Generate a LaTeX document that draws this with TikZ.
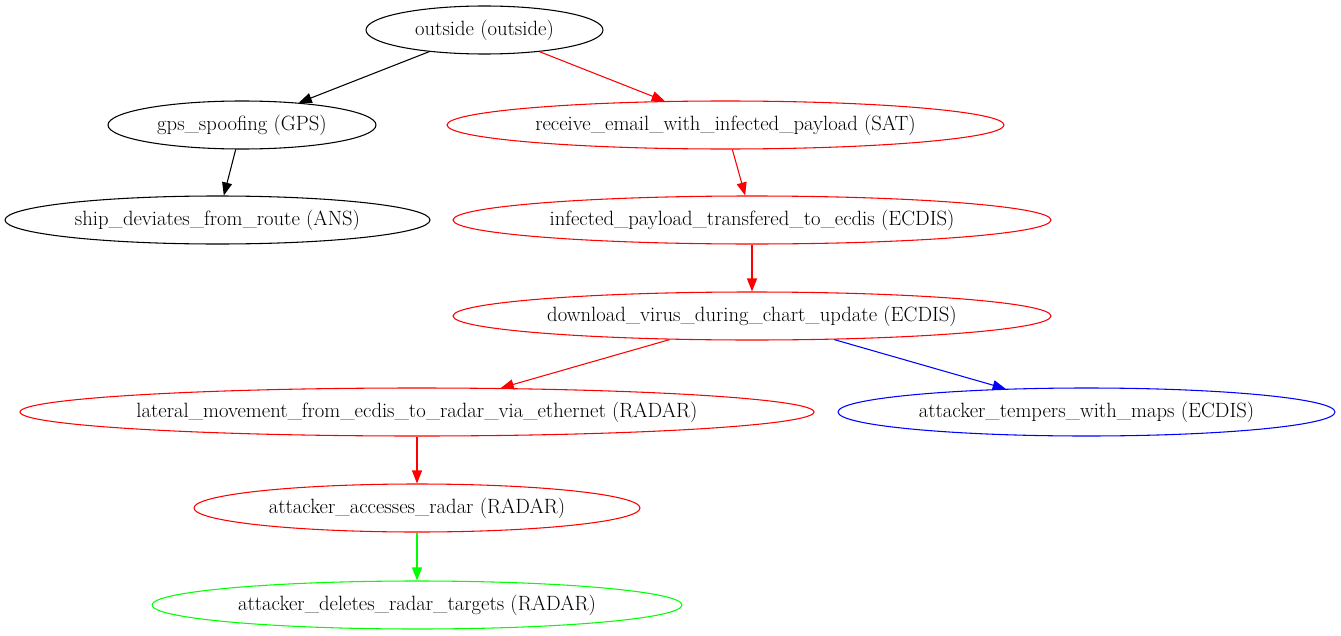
\documentclass[tikz,border=0pt]{standalone}
\usetikzlibrary{shapes.geometric,arrows.meta}
\tikzset{>={Triangle[length=9.75pt,width=7.5pt]}}
\tikzset{
  state/.style={ellipse, draw, inner xsep=-40pt, inner ysep=0pt, minimum height=36pt, font=\fontsize{15.5pt}{17pt}\selectfont, line width=0.8pt},
  edge/.style={->, line width=0.8pt}
}
\definecolor{gvred}{RGB}{255,0,0}
\definecolor{gvblue}{RGB}{0,0,255}
\definecolor{gvgreen}{RGB}{0,255,0}

\begin{document}
\begin{tikzpicture}[x=0.75pt, y=-0.75pt]
      \useasboundingbox (0,0) rectangle (1341,635);
      % nodes
      \node[state, minimum width=177.75pt] (outside) at (484.5,30) {outside (outside)};
      \node[state, minimum width=201pt] (gps) at (242,125) {gps\_spoofing (GPS)};
      \node[state, minimum width=417.75pt, draw=gvred] (receive) at (725.5,125) {receive\_email\_with\_infected\_payload (SAT)};
      \node[state, minimum width=318.75pt] (ship) at (217.5,220) {ship\_deviates\_from\_route (ANS)};
      \node[state, minimum width=448.5pt, draw=gvred] (infected) at (752,220) {infected\_payload\_transfered\_to\_ecdis (ECDIS)};
      \node[state, minimum width=448.5pt, draw=gvred] (download) at (752,316) {download\_virus\_during\_chart\_update (ECDIS)};
      \node[state, minimum width=595.5pt, draw=gvred] (lateral) at (417,412) {lateral\_movement\_from\_ecdis\_to\_radar\_via\_ethernet (RADAR)};
      \node[state, minimum width=372.75pt, draw=gvblue] (tempers) at (1086.5,412) {attacker\_tempers\_with\_maps (ECDIS)};
      \node[state, minimum width=334.5pt, draw=gvred] (accesses) at (417,508) {attacker\_accesses\_radar (RADAR)};
      \node[state, minimum width=397.5pt, draw=gvgreen] (deletes) at (417,605) {attacker\_deletes\_radar\_targets (RADAR)};
      % edges
      \draw[edge] (outside) -- (gps);
      \draw[edge, gvred] (outside) -- (receive);
      \draw[edge] (gps) -- (ship);
      \draw[edge, gvred] (receive) -- (infected);
      \draw[edge, gvred] (infected) -- (download);
      \draw[edge, gvred] (download) -- (lateral);
      \draw[edge, gvblue] (download) -- (tempers);
      \draw[edge, gvred] (lateral) -- (accesses);
      \draw[edge, gvgreen] (accesses) -- (deletes);
    \end{tikzpicture}
\end{document}
